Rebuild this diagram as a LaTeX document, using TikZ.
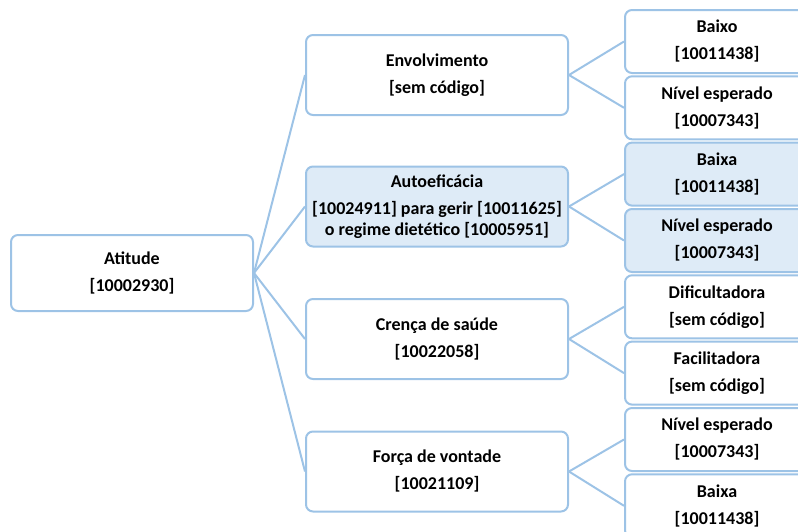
\documentclass[tikz,border=0pt]{standalone}
\usepackage{fontspec}
\setmainfont{Carlito}
\definecolor{linkblue}{RGB}{157,195,230}
\definecolor{paleblue}{RGB}{222,235,247}
\begin{document}
\begin{tikzpicture}[x=1pt,y=-1pt,
  box/.style={draw=linkblue, line width=2pt, rounded corners=7pt, fill=white,
    align=center, inner sep=0pt, font=\fontsize{18}{27}\selectfont\bfseries},
  rootbox/.style={box, minimum width=242pt, minimum height=76pt},
  midbox/.style={box, minimum width=262pt, minimum height=80pt},
  leafbox/.style={box, minimum width=184pt, minimum height=63pt},
  hilite/.style={fill=paleblue},
  link/.style={draw=linkblue, line width=2pt}
]
\path[use as bounding box, clip] (0,0) rectangle (798,531);

% root
\node[rootbox] (root) at (132,273) {Atitude\\{}[10002930]};

% second level
\node[midbox] (env) at (437,75) {Envolvimento\\{}[sem código]};
\node[midbox, hilite, font=\fontsize{18}{20.5}\selectfont\bfseries] (auto) at (437,206.5)
  {Autoeficácia\\[6.5pt]{}[10024911] para gerir [10011625]\\o regime dietético [10005951]};
\node[midbox] (cren) at (437,339) {Crença de saúde\\{}[10022058]};
\node[midbox] (forc) at (437,471.5) {Força de vontade\\{}[10021109]};

% third level
\node[leafbox] (l1) at (717,41.5) {Baixo\\{}[10011438]};
\node[leafbox] (l2) at (717,107.8) {Nível esperado\\{}[10007343]};
\node[leafbox, hilite] (l3) at (717,174.1) {Baixa\\{}[10011438]};
\node[leafbox, hilite] (l4) at (717,240.5) {Nível esperado\\{}[10007343]};
\node[leafbox] (l5) at (717,306.8) {Dificultadora\\{}[sem código]};
\node[leafbox] (l6) at (717,373.1) {Facilitadora\\{}[sem código]};
\node[leafbox] (l7) at (717,439.5) {Nível esperado\\{}[10007343]};
\node[leafbox] (l8) at (717,505.8) {Baixa\\{}[10011438]};

% connectors
\foreach \m in {env,auto,cren,forc}
  \path[link] (root.east) -- (\m.west);
\foreach \m/\a/\b in {env/l1/l2, auto/l3/l4, cren/l5/l6, forc/l7/l8}{
  \path[link] (\m.east) -- (\a.west);
  \path[link] (\m.east) -- (\b.west);
}
\end{tikzpicture}
\end{document}
